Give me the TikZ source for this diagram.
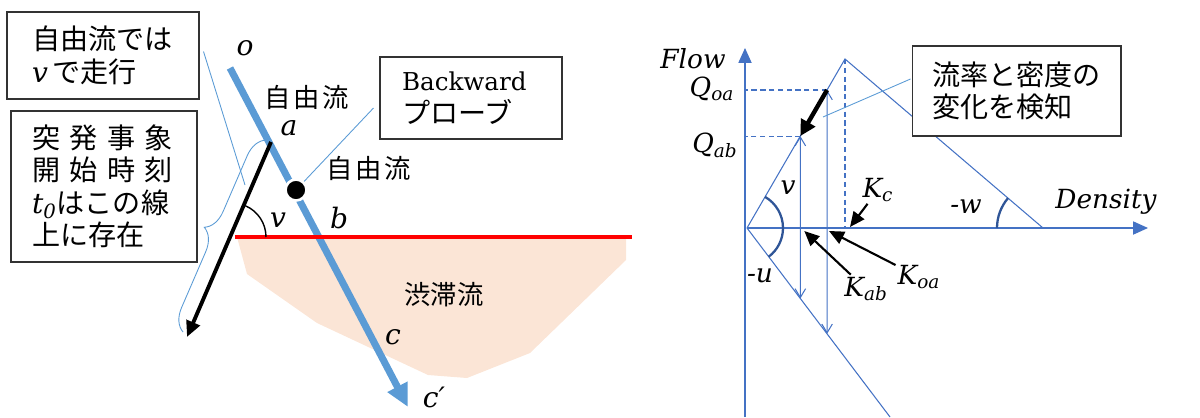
\RequirePackage{fix-cm}
\documentclass[tikz,border=0pt]{standalone}
\usepackage{fontspec}
\newfontfamily\jp{Noto Sans CJK JP}
\newfontfamily\lblfont{DejaVu Serif}
\usetikzlibrary{arrows.meta, calc, decorations.pathreplacing}
\definecolor{axisblue}{HTML}{4472C4}
\definecolor{probeblue}{HTML}{5B9BD5}
\definecolor{jamfill}{HTML}{FBE5D6}
\definecolor{arcblue}{HTML}{2F5597}

\begin{document}
\begin{tikzpicture}[x=0.02cm, y=0.02cm,
    textbox/.style={draw=black!80, line width=0.6pt, fill=white, align=left, font=\jp\fontsize{16}{18.5}\selectfont},
    lbl/.style={font=\lblfont\itshape\fontsize{16}{18}\selectfont, inner sep=1pt},
    klbl/.style={font=\lblfont\itshape\fontsize{15}{17}\selectfont, inner sep=1pt},
    jlbl/.style={font=\jp\fontsize{15}{17}\selectfont, inner sep=1pt},
    callout/.style={probeblue, line width=0.5pt},
    axisstyle/.style={axisblue, line width=0.7pt, -{Triangle[length=8.5pt,width=7.5pt]}},
    thinline/.style={axisblue, line width=0.6pt},
    guide/.style={axisblue, line width=0.6pt, dash pattern=on 3pt off 2pt},
    dblarrow/.style={axisblue, line width=0.6pt, {Straight Barb[length=5pt,width=6pt]}-{Straight Barb[length=5pt,width=6pt]}},
    pointer/.style={black, line width=1.2pt, -{Triangle[length=8.5pt,width=7.5pt]}},
    anglearc/.style={arcblue, line width=1.3pt}]
  \useasboundingbox (0,0) rectangle (1200,417);

  % time-space diagram
  \fill[jamfill] (237,180) -- (247,143) -- (317,94) -- (428,42) -- (467,39)
    -- (530,64) -- (626,157) -- (626,180) -- cycle;
  \coordinate (o) at (230,349);
  \coordinate (cp) at (408,10);
  \draw[probeblue, line width=4pt, -{Triangle[length=13pt,width=12pt]}] (o) -- (cp);
  \coordinate (jamL) at (235,180);
  \coordinate (jamR) at (632,180);
  \draw[red, line width=2.8pt] (jamL) -- (jamR);
  \coordinate (t0top) at (271,275);
  \coordinate (t0end) at (187,80);
  \draw[black, line width=2.2pt, -{Triangle[length=9pt,width=8pt]}] (t0top) -- (t0end);
  \draw[callout, decorate, decoration={brace, amplitude=0.44cm}] (183,85) -- (266,277);
  \draw[black, line width=0.8pt] (232,180) ++(66.7:34) arc[start angle=66.7, end angle=0, radius=34];
  \node[circle, fill=black, draw=white, line width=1.5pt, minimum size=0.42cm, inner sep=0pt] (probe) at (296,227) {};

  \node[lbl] (olbl) at (245,369) {o};
  \node[lbl] (albl) at (289,289) {a};
  \node[lbl] (blbl) at (339,199) {b};
  \node[lbl] (clbl) at (393,80) {c};
  \node[lbl] (cplbl) at (434,20) {c′};
  \node[lbl] (vlbl) at (278,197) {v};
  \node[jlbl] (free1) at (307,320) {自\hspace{1.5pt}由\hspace{1.5pt}流};
  \node[jlbl] (free2) at (369,249) {自\hspace{1.5pt}由\hspace{1.5pt}流};
  \node[jlbl] (jam) at (444,122) {渋滞流};

  \node[textbox, minimum width=3.84cm, minimum height=1.74cm, text width=2.84cm, inner xsep=0.5cm]
    (box1) at (103,361.5) {自由流では\\{\lblfont\itshape v}\,で走行};
  \node[textbox, minimum width=3.72cm, minimum height=3.02cm, text width=2.88cm, inner xsep=0.42cm]
    (box2) at (104,230.5) {\makebox[2.82cm][s]{突\hfill 発\hfill 事\hfill 象}\\
    \makebox[2.82cm][s]{開\hfill 始\hfill 時\hfill 刻}\\{\lblfont\itshape t\textsubscript{0}}はこの線\\上に存在};
  \node[textbox, minimum width=3.64cm, minimum height=1.64cm, text width=2.76cm, inner xsep=0.44cm]
    (bwbox) at (471,319) {{\lblfont\fontsize{14}{18}\selectfont Backward}\\プローブ};
  \coordinate (box1tip) at (245,232);
  \draw[callout] ([shift={(4,4)}]box1.east) -- (box1tip);
  \draw[callout] ([shift={(-6,-10)}]bwbox.west) -- (probe);

  % flow-density diagram
  \coordinate (O) at (747,189);
  \coordinate (P) at (845,358);
  \coordinate (R) at (1043,189);
  \coordinate (L) at (890,0);
  \coordinate (fbot) at (745,0);
  \coordinate (ftop) at (745,369);
  \coordinate (dend) at (1148,189);
  \draw[axisstyle] (fbot) -- (ftop);
  \draw[axisstyle] (O) -- (dend);
  \draw[thinline] (O) -- (P) -- (R);
  \draw[thinline] (O) -- (L);
  \draw[guide] (P) -- (P |- O);
  \coordinate (Qoa) at ($(O)!0.8166!(P)$);
  \coordinate (Qab) at ($(O)!0.544!(P)$);
  \coordinate (Qoalow) at ($(O)!0.56!(L)$);
  \coordinate (Qablow) at ($(O)!0.373!(L)$);
  \draw[guide] (Qoa) -- (Qoa -| fbot);
  \draw[guide] (Qab) -- (Qab -| fbot);
  \draw[dblarrow] (Qab) -- (Qablow);
  \draw[dblarrow] (Qoa) -- (Qoalow);
  \draw[black, line width=2.5pt, -{Triangle[length=9pt,width=9pt]}] (Qoa) -- (Qab);
  \draw[anglearc] (O) ++(60:36) arc[start angle=60, end angle=-53, radius=36];
  \draw[anglearc] (R) ++(180:46) arc[start angle=180, end angle=139.5, radius=46];

  \node[klbl] (flow) at (693,358) {Flow};
  \node[klbl] (density) at (1106,215) {Density};
  \node[klbl] (qoa) at (712,328) {Q\textsubscript{oa}};
  \node[klbl] (qab) at (715,272) {Q\textsubscript{ab}};
  \node[klbl] (kc) at (878,227) {K\textsubscript{c}};
  \node[klbl] (kab) at (866,128) {K\textsubscript{ab}};
  \node[klbl] (koa) at (919,140) {K\textsubscript{oa}};
  \node[klbl] (vr) at (788,229) {v};
  \node[klbl] (ur) at (760,141) {-u};
  \node[klbl] (wr) at (966,210) {-w};
  \coordinate (kcpt) at ($(P |- O)+(5,1)$);
  \coordinate (kabpt) at ($(Qab |- O)+(4,-3)$);
  \coordinate (koapt) at ($(Qoa |- O)+(2,-3)$);
  \draw[pointer] (kc) -- (kcpt);
  \draw[pointer] (kab) -- (kabpt);
  \draw[pointer] (koa) -- (koapt);

  \node[textbox, minimum width=4.18cm, minimum height=1.8cm, text width=3.38cm, inner xsep=0.4cm]
    (dbox) at (1016.5,326) {流率と密度の\\変化を検知};
  \coordinate (dboxtip) at (823,300);
  \draw[callout] ([shift={(-1,12)}]dbox.west) -- (dboxtip);
\end{tikzpicture}
\end{document}
